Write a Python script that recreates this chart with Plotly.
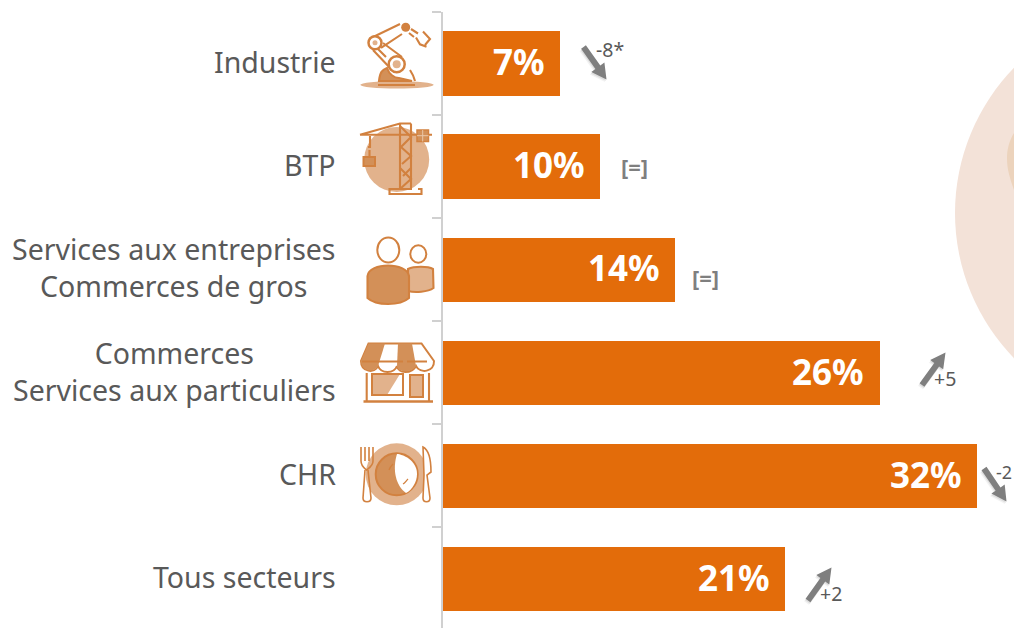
import re
import plotly.graph_objects as go

W, H = 1014, 628
FONT = "Noto Sans"

categories = ["Industrie", "BTP", "Services aux entreprises", "Commerces", "CHR", "Tous secteurs"]
axis_labels = ["Industrie", "BTP", "Services aux entreprises<br>Commerces de gros",
               "Commerces<br>Services aux particuliers", "CHR", "Tous secteurs"]
values = [7.03, 9.43, 13.92, 26.15, 32.0, 20.5]
value_labels = ["7%", "10%", "14%", "26%", "32%", "21%"]

ORANGE = "#E36C0A"
LINE = "#D2813F"
MID = "#D39058"
LIGHT = "#E2B28C"
GREY_TXT = "#595959"
ARROW = "#7F7F7F"


def px(x):
    return x / W


def py(y):
    return 1 - y / H


def conv(path):
    return re.sub(r"(-?\d+\.?\d*),(-?\d+\.?\d*)",
                  lambda m: f"{px(float(m.group(1))):.5f},{py(float(m.group(2))):.5f}", path)


shapes = []


def P(path, fill=None, line=LINE, lw=2.1, layer="above", opacity=1):
    shapes.append(dict(type="path", xref="paper", yref="paper", path=conv(path), layer=layer,
                       opacity=opacity, fillcolor=fill or "rgba(0,0,0,0)",
                       line=dict(color=line or "rgba(0,0,0,0)", width=lw if line else 0)))


def E(cx, cy, rx, ry=None, fill=None, line=LINE, lw=1.8, layer="above"):
    ry = ry or rx
    shapes.append(dict(type="circle", xref="paper", yref="paper", layer=layer,
                       x0=px(cx - rx), x1=px(cx + rx), y0=py(cy + ry), y1=py(cy - ry),
                       fillcolor=fill or "rgba(0,0,0,0)",
                       line=dict(color=line or "rgba(0,0,0,0)", width=lw if line else 0)))


# pale background disc
E(1163, 213, 208, fill="#F3E2D8", line=None, layer="below")
P("M1014,133 C1009,141 1007,150 1007,158 C1007,170 1010,178 1014,190 Z", fill="#ECD3BC", line=None, layer="below")

# --- Industrie icon
E(397, 84.8, 36.7, 3.7, fill=LIGHT, line=None)
P("M378,85 L415,85")
P("M379,81 C380,72 382,70 387,68 C389,74 394,78 399,78 L412,81 Z", fill=MID)
P("M410,70 C412,73 414,77 415,81")
P("M369,39 L400,24 M381,48 L402,34 M373,50 L392,70 M377,48 L386,57 M383,43 L402,57")
E(396.7, 64.3, 8, fill="#FFFFFF", lw=2.5)
E(396.7, 64.3, 4, fill=LIGHT, line=None)
E(375, 42.7, 6.5, fill="#FFFFFF", lw=2.5)
E(375, 42.7, 2.5, fill=LIGHT, line=None)
E(405.7, 27.3, 4.5, fill=LINE, line=None)
P("M411,29 L418,33.5 M409,33 L414,37")
P("M423,31.5 L430,39 L425,45 M416,37.5 L420,44.3 L426.5,46.7")

# --- BTP icon
E(396.7, 159.5, 32.5, fill=LIGHT, line=None)
P("M360,134.7 L432,134.7 M360,134.7 L400,123.5 L411,123.5")
P("M400,123.5 L400,189 M411,123.5 L411,189")
P("M400,126 L411,137 L401,147 L411,156 L402,164 M400,168 L411,179 L400,189 M411,168 L403,176")
shapes.append(dict(type="rect", xref="paper", yref="paper", layer="above", x0=px(417), x1=px(428.5),
                   y0=py(141.5), y1=py(130), fillcolor=MID, line=dict(color=LINE, width=1.5)))
P("M422.7,130 L422.7,141.5 M417,135.7 L428.5,135.7", line="#EBC7A8", lw=1)
P("M370,136 L370,147 L368,147 M369.5,150 L369.5,156")
shapes.append(dict(type="rect", xref="paper", yref="paper", layer="above", x0=px(363.5), x1=px(375),
                   y0=py(166), y1=py(157), fillcolor=MID, line=dict(color=LINE, width=2)))
P("M412,189 L389.5,189 L389.5,194 L421.5,194 L421.5,189 L418,189 M394,194 L410,194")

# --- People icon
P("M408,269 C414,266 428,266 433,269 L433.5,288 C428,292 415,293 408,291 Z", fill=LIGHT)
P("M367.5,276 C369,262 407,262 409,276 L409,298 C400,306 376,306 367.5,298 Z", fill=MID)
E(388.3, 250, 11, 12.5, lw=2)
E(418.3, 254, 8, 8.7, lw=2)

# --- Shop icon
P("M368.5,343.5 L421.5,343.5 L434,361 C434.5,372 420,374 416,366 C412,374 398,374 397,366 "
  "C394,374 381,374 378,366 C375,374 361,372 361,361 Z", fill="#FFFFFF", lw=2)
P("M368.5,343.5 L385,343.5 L378,366 C375,373 361,372 361,361 Z", fill=MID, line=None)
P("M398,343.5 L412,343.5 L416,366 C412,373 398,373 397,366 Z", fill=MID, line=None)
P("M362,361.5 L403,361.5 M407,361.5 L427,361.5", lw=1.8)
P("M366.7,373 L366.7,401 M429,373 L429,401")
P("M372,374 L400,374 L387,395 L372,395 Z", fill=LIGHT, line=None)
shapes.append(dict(type="rect", xref="paper", yref="paper", layer="above", x0=px(372), x1=px(403),
                   y0=py(395), y1=py(374), line=dict(color=LINE, width=2)))
shapes.append(dict(type="rect", xref="paper", yref="paper", layer="above", x0=px(410), x1=px(423),
                   y0=py(397), y1=py(375), fillcolor=LIGHT, line=dict(color=LINE, width=2)))
P("M363.5,401.5 L433,401.5", lw=2.5)

# --- Plate icon
E(396.7, 474.3, 31, fill=LIGHT, line=None)
E(396.7, 474.3, 21, fill=MID, lw=2)
P("M397,454 C402,454 417,460 417,474 C417,482 412,490 406,493 C396,486 392,470 397,454 Z", fill="#FFFFFF", line=None)
P("M389,470 C390,467 391,466 393,464 M403,484 C405,483 406,481 408,479", line=LINE, lw=1.3)
P("M361,447 L361,461 C361,466 364,468 366.5,470 C369,468 373,466 373,461 L373,447 M365,447 L365,461 M369,447 L369,461", lw=1.6)
P("M365,470 L363,498 C363,503 371,503 371,498 L368,470", lw=1.6)
P("M423,447 C429,450 431,460 431,472 L427,475 L430,498 C430,503 423,503 423,498 L424,475 Z", fill="#FFFFFF", lw=1.6)


# --- arrows (tail to tip in pixels)
def arrow(x0, y0, x1, y1, sw=6.0, hw=16.0, hl=15.0):
    dx, dy = x1 - x0, y1 - y0
    n = (dx * dx + dy * dy) ** 0.5
    ux, uy = dx / n, dy / n
    nx, ny = -uy, ux
    bx, by = x1 - ux * hl, y1 - uy * hl

    def build(ox, oy):
        pts = [(x0 + nx * sw / 2, y0 + ny * sw / 2), (bx + nx * sw / 2, by + ny * sw / 2),
               (bx + nx * hw / 2, by + ny * hw / 2), (x1, y1), (bx - nx * hw / 2, by - ny * hw / 2),
               (bx - nx * sw / 2, by - ny * sw / 2), (x0 - nx * sw / 2, y0 - ny * sw / 2)]
        return "M" + " L".join(f"{a + ox:.1f},{b + oy:.1f}" for a, b in pts) + " Z"

    P(build(-1.5, 2.5), fill="#7F7F7F", line=None, opacity=0.10)
    P(build(-0.5, 1.5), fill="#7F7F7F", line=None, opacity=0.18)
    P(build(0, 0), fill=ARROW, line=None)


arrow(583.5, 47, 606.5, 79.5)
arrow(922, 385, 945.5, 352.5)
arrow(984, 468.5, 1006.5, 501.5)
arrow(808, 600.5, 831.5, 567.5)

# --- figure
fig = go.Figure(go.Bar(y=categories, x=values, orientation="h", width=0.625,
                       marker=dict(color=ORANGE, line=dict(width=0)), hoverinfo="skip"))

annotations = []
for c, lab in zip(categories, axis_labels):
    annotations.append(dict(x=338 / W, xref="paper", y=c, yref="y", text=lab, showarrow=False,
                            xanchor="right", yanchor="middle", align="center", yshift=1.5,
                            font=dict(family=FONT, size=28.5, color=GREY_TXT)))
for c, v, lab in zip(categories, values, value_labels):
    annotations.append(dict(x=v, xref="x", y=c, yref="y", text=f"<b>{lab}</b>", showarrow=False,
                            xanchor="right", yanchor="middle", xshift=-13, yshift=1.5,
                            font=dict(family=FONT, size=35, color="#FFFFFF")))

notes = [("-8*", 596, 50, GREY_TXT, 19.5, False), ("+5", 934, 378, GREY_TXT, 19.5, False),
         ("-2", 996, 472, GREY_TXT, 18, False), ("+2", 820, 593, GREY_TXT, 19.5, False),
         ("[=]", 621, 166, ARROW, 22, True), ("[=]", 692, 277, ARROW, 22, True)]
for t, x, y, col, size, bold in notes:
    annotations.append(dict(x=px(x), xref="paper", y=py(y), yref="paper",
                            text=f"<b>{t}</b>" if bold else t, showarrow=False,
                            xanchor="left", yanchor="middle", xshift=-2,
                            font=dict(family=FONT, size=size, color=col)))

PLOT_L, PLOT_T = 442.7, 11.7
BAND = 103.1
fig.update_layout(
    width=W, height=H, autosize=False, margin=dict(l=0, r=0, t=0, b=0), showlegend=False,
    paper_bgcolor="#FFFFFF", plot_bgcolor="rgba(0,0,0,0)", bargap=0,
    shapes=shapes, annotations=annotations,
    xaxis=dict(domain=[PLOT_L / W, 1], range=[0, (W - PLOT_L) / 16.7], visible=False, fixedrange=True),
    yaxis=dict(domain=[0, 1 - PLOT_T / H], autorange=False, range=[-0.5 + (H - PLOT_T) / BAND, -0.5],
               type="category", categoryorder="array", categoryarray=categories,
               showticklabels=False, showgrid=False, zeroline=False, showline=True,
               linecolor="#D0D0D0", linewidth=2, ticks="outside", tickson="boundaries",
               tickcolor="#D0D0D0", tickwidth=2, ticklen=9, fixedrange=True),
)
fig.write_html("out.html", config=dict(displayModeBar=False),
               post_script="document.body.style.margin='0';document.documentElement.style.overflow='hidden';")
